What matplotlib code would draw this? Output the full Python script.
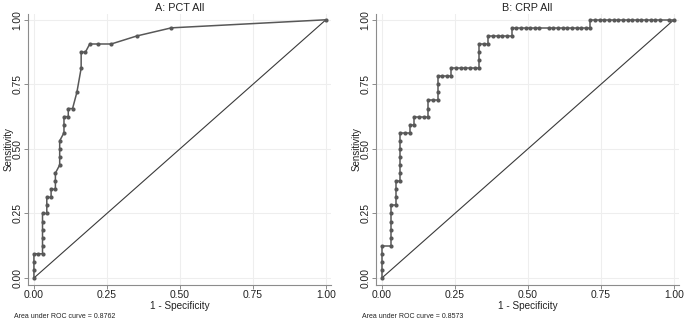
import matplotlib
matplotlib.use("Agg")
import matplotlib.pyplot as plt
import numpy as np

plt.rcParams['font.family'] = ['Liberation Sans', 'DejaVu Sans']

# ---- data (counts of false positives / true positives at each cut point) ----
pct_neg_total = 68
pct_pos_total = 32
pct_fp = [0, 0, 0, 0, 1, 2, 2, 2, 2, 2, 2, 3, 3, 3, 4, 4, 5, 5, 5, 6, 6, 6, 6,
          7, 7, 7, 8, 8, 9, 10, 11, 11, 12, 13, 15, 18, 24, 32, 68]
pct_tp = [0, 1, 2, 3, 3, 3, 4, 5, 6, 7, 8, 8, 9, 10, 10, 11, 11, 12, 13, 14, 15, 16, 17,
          18, 19, 20, 20, 21, 21, 23, 26, 28, 28, 29, 29, 29, 30, 31, 32]
pct_auc = "0.8762"

crp_neg_total = 63
crp_pos_total = 32
crp_fp = ([0, 0, 0, 0, 0, 2, 2, 2, 2, 2, 2, 3, 3, 3, 3, 4, 4, 4, 4, 4, 4, 4,
           5, 6, 6, 7, 7, 8, 9, 10, 10, 10, 11, 12, 12, 12, 12, 13, 14, 15, 15,
           16, 17, 18, 19, 20, 21, 21, 21, 21, 22, 23, 23, 24, 25, 26, 27, 28, 28]
          + [29, 30, 31, 32, 33, 34, 36, 37, 38, 39, 40, 41, 42, 43, 44, 45, 45]
          + [46, 47, 48, 49, 50, 51, 52, 53, 54, 55, 56, 57, 58, 59, 60, 62, 63])
crp_tp = ([0, 1, 2, 3, 4, 4, 5, 6, 7, 8, 9, 9, 10, 11, 12, 12, 13, 14, 15, 16, 17, 18,
           18, 18, 19, 19, 20, 20, 20, 20, 21, 22, 22, 22, 23, 24, 25, 25, 25, 25, 26,
           26, 26, 26, 26, 26, 26, 27, 28, 29, 29, 29, 30, 30, 30, 30, 30, 30, 31]
          + [31] * 16 + [32]
          + [32] * 17)
crp_auc = "0.8573"

titles = ["A: PCT All", "B: CRP All"]
xtick_vals = [0.0, 0.25, 0.5, 0.75, 1.0]
xtick_labels = ["0.00", "0.25", "0.50", "0.75", "1.00"]

fig = plt.figure(figsize=(6.85, 3.22), dpi=100)

line_col = "#585858"
grid_col = "#eeeeee"
spine_col = "#8c8c8c"

panels = [
    (pct_fp, pct_tp, pct_neg_total, pct_pos_total, pct_auc, [0.041, 0.115, 0.442, 0.842]),
    (crp_fp, crp_tp, crp_neg_total, crp_pos_total, crp_auc, [0.549, 0.115, 0.442, 0.842]),
]

for i, (fp, tp, nneg, npos, auc, rect) in enumerate(panels):
    ax = fig.add_axes(rect)
    x = np.array(fp) / nneg
    y = np.array(tp) / npos
    ax.plot([0, 1], [0, 1], color="#3a3a3a", lw=0.8, zorder=2)
    ax.plot(x, y, color=line_col, lw=1.1, marker="o", ms=3.0, mew=0,
            mfc=line_col, zorder=3)
    ax.set_xlim(-0.02, 1.017)
    ax.set_ylim(-0.027, 1.023)
    ax.set_xticks(xtick_vals)
    ax.set_xticklabels(xtick_labels)
    ax.set_yticks(xtick_vals)
    ax.set_yticklabels(xtick_labels, rotation=90, va="center")
    ax.grid(True, color=grid_col, lw=0.8)
    ax.set_axisbelow(True)
    for s in ["top", "right"]:
        ax.spines[s].set_visible(False)
    for s in ["left", "bottom"]:
        ax.spines[s].set_color(spine_col)
        ax.spines[s].set_linewidth(0.8)
    ax.tick_params(axis="both", direction="out", length=3.0, width=0.7,
                   color=spine_col, labelsize=7.4, labelcolor="#222222", pad=1)
    ax.tick_params(axis="x", pad=0.5)
    ax.set_xlabel("1 - Specificity", fontsize=7.2, color="#222222", labelpad=0.8)
    ax.set_ylabel("Sensitivity", fontsize=7.0, color="#222222", labelpad=-0.5)
    ax.set_title(titles[i], fontsize=7.8, color="#222222", pad=2)
    ax.text(-0.045, -0.117, "Area under ROC curve = " + auc, transform=ax.transAxes,
            fontsize=5.0, color="#222222", ha="left", va="center")

fig.savefig("out.png", dpi=100, facecolor="white")
